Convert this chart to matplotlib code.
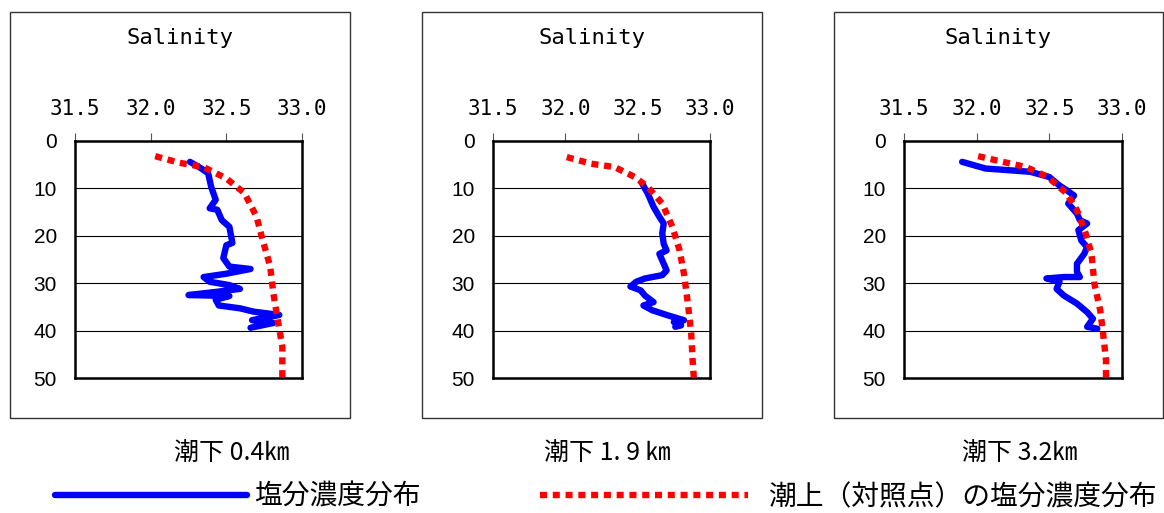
import matplotlib.pyplot as plt
from matplotlib.patches import Rectangle

# data: salinity vs depth (m)
x_ticks = [31.5, 32.0, 32.5, 33.0]
x_tick_labels = ['31.5', '32.0', '32.5', '33.0']
y_ticks = [0, 10, 20, 30, 40, 50]
panel_names = ['潮下 0.4㎞', '潮下 1. 9 ㎞', '潮下 3.2㎞']
legend_labels = ['塩分濃度分布', '潮上（対照点）の塩分濃度分布']

# 潮下 0.4km
depth_a = [4.4, 5.7, 6.8, 9.7, 12.4, 14.2, 14.5, 16.7, 18.1, 21.5, 22.0, 24.7, 26.5, 27.0,
           28.0, 28.7, 29.7, 30.4, 31.2, 31.8, 32.5, 32.7, 33.5, 34.7, 35.3, 36.0, 36.7,
           37.8, 38.4, 39.4]
sal_a = [32.26, 32.33, 32.38, 32.40, 32.43, 32.39, 32.44, 32.47, 32.52, 32.54, 32.50, 32.48,
         32.52, 32.66, 32.50, 32.35, 32.39, 32.52, 32.59, 32.44, 32.25, 32.52, 32.43, 32.45,
         32.59, 32.68, 32.85, 32.67, 32.81, 32.66]
ref_depth_a = [3.2, 4.6, 5.5, 7.9, 11.0, 16.0, 20.9, 26.5, 32.0, 37.8, 43.4, 51.0]
ref_sal_a = [32.03, 32.19, 32.35, 32.50, 32.62, 32.70, 32.74, 32.79, 32.81, 32.84, 32.87, 32.87]

# 潮下 1.9km
depth_b = [8.9, 11.1, 13.9, 16.0, 17.4, 19.5, 21.7, 23.1, 23.8, 25.9, 27.3, 28.3, 29.0, 29.7,
           30.7, 31.5, 32.6, 34.0, 34.7, 35.7, 36.8, 37.8, 38.2, 38.9, 39.2]
sal_b = [32.53, 32.57, 32.61, 32.65, 32.68, 32.67, 32.68, 32.70, 32.65, 32.68, 32.70, 32.67,
         32.55, 32.49, 32.45, 32.52, 32.55, 32.61, 32.54, 32.60, 32.71, 32.82, 32.75, 32.80,
         32.76]
ref_depth_b = [3.4, 4.8, 5.5, 7.6, 9.7, 13.2, 18.1, 23.1, 28.0, 35.0, 40.6, 46.3, 50.8]
ref_sal_b = [32.01, 32.18, 32.34, 32.48, 32.57, 32.67, 32.74, 32.79, 32.82, 32.85, 32.87,
             32.88, 32.89]

# 潮下 3.2km
depth_c = [4.4, 5.1, 5.8, 6.5, 7.6, 9.4, 10.4, 11.5, 13.2, 15.3, 16.7, 17.4, 18.8, 21.0, 22.4,
           23.8, 25.9, 27.6, 28.7, 28.7, 29.0, 29.7, 31.2, 32.6, 34.3, 36.1, 37.5, 39.2, 39.6]
sal_c = [31.90, 31.98, 32.06, 32.37, 32.50, 32.57, 32.62, 32.67, 32.63, 32.69, 32.71, 32.76,
         32.70, 32.72, 32.76, 32.74, 32.69, 32.69, 32.71, 32.60, 32.48, 32.57, 32.55, 32.60,
         32.69, 32.76, 32.80, 32.76, 32.83]
ref_depth_c = [3.2, 4.4, 5.5, 7.6, 11.1, 14.6, 19.5, 23.8, 30.1, 35.7, 40.6, 46.3, 50.8]
ref_sal_c = [32.01, 32.18, 32.34, 32.49, 32.62, 32.69, 32.75, 32.79, 32.81, 32.85, 32.87,
             32.89, 32.89]

panels = [(sal_a, depth_a, ref_sal_a, ref_depth_a),
          (sal_b, depth_b, ref_sal_b, ref_depth_b),
          (sal_c, depth_c, ref_sal_c, ref_depth_c)]

W, H = 1164, 513
fig = plt.figure(figsize=(W / 100, H / 100), dpi=100)

ax_left = [75, 493, 904]
ax_width = [227, 217, 218]
box_left = [10, 422, 834]
box_right = [350, 762, 1163]
name_x = [232, 607, 1020]
cjk = ['Noto Sans CJK JP', 'DejaVu Sans']

for i, (s, d, rs, rd) in enumerate(panels):
    # outer frame of each panel
    fig.add_artist(Rectangle((box_left[i] / W, 1 - 418 / H), (box_right[i] - box_left[i]) / W,
                             406 / H, transform=fig.transFigure, fill=False,
                             edgecolor='#333333', linewidth=1))

    ax = fig.add_axes([ax_left[i] / W, 1 - 378 / H, ax_width[i] / W, 237 / H])
    bl, = ax.plot(s, d, color='#0000ff', linewidth=4.6, solid_capstyle='round',
                  solid_joinstyle='round', zorder=3)
    rl, = ax.plot(rs, rd, color='#ff0000', linewidth=4.6, linestyle=(0, (1.1, 0.9)),
                  dash_capstyle='butt', clip_on=False, zorder=4)
    ax.set_xlim(31.5, 33.0)
    ax.set_ylim(50, 0)
    ax.xaxis.tick_top()
    ax.set_xticks(x_ticks)
    ax.set_xticklabels(x_tick_labels, fontfamily='DejaVu Sans Mono', fontsize=15)
    ax.set_yticks(y_ticks)
    ax.set_yticklabels([str(v) for v in y_ticks], fontfamily='Liberation Sans', fontsize=15)
    ax.tick_params(axis='x', direction='out', length=6, width=0.8, pad=10, color='#555555')
    ax.tick_params(axis='y', length=0, pad=13)
    ax.grid(axis='y', color='black', linewidth=0.8)
    for sp in ax.spines.values():
        sp.set_linewidth(1.8)
        sp.set_color('black')

    cx = (box_left[i] + box_right[i]) / 2
    fig.text(cx / W, 1 - 38 / H, 'Salinity', ha='center', va='center',
             fontfamily='DejaVu Sans Mono', fontsize=16)
    fig.text(name_x[i] / W, 1 - 453 / H, panel_names[i], ha='center', va='center',
             fontfamily=cjk, fontsize=18)

# legend: two separate entries, placed like the reference
leg1 = fig.legend([bl], legend_labels[:1], loc='center left', bbox_to_anchor=(55 / W, 1 - 497 / H),
                  frameon=False, handlelength=6.9, handletextpad=0.25, borderpad=0,
                  borderaxespad=0, prop={'family': cjk, 'size': 20})
leg2 = fig.legend([rl], legend_labels[1:], loc='center left', bbox_to_anchor=(540 / W, 1 - 497 / H),
                  frameon=False, handlelength=7.5, handletextpad=0.7, borderpad=0,
                  borderaxespad=0, prop={'family': cjk, 'size': 20})

fig.savefig('out.png', dpi=100)
